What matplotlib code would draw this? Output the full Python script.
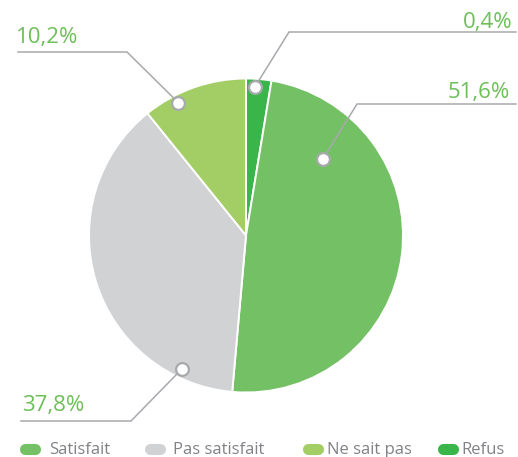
import numpy as np
import matplotlib
matplotlib.use('Agg')
import matplotlib.pyplot as plt

# Données
categories = ['Satisfait', 'Pas satisfait', 'Ne sait pas', 'Refus']
percent_labels = ['51,6%', '37,8%', '10,2%', '0,4%']
# parts telles que dessinées sur le camembert (en %)
slice_share = [48.8, 37.8, 10.8, 2.6]
colors = ['#74C065', '#D1D2D4', '#A3CD65', '#3AB54A']

LABEL_GREEN = '#6DBF57'
LINE_GREY = '#A7A9AC'
TEXT_GREY = '#808285'

plt.rcParams['font.family'] = ['Open Sans', 'DejaVu Sans']

W, H = 518, 457
fig = plt.figure(figsize=(W / 100, H / 100), dpi=100)
ax = fig.add_axes([0, 0, 1, 1])

cx, cy, R = 246, 235.5, 157

# ordre dans le sens horaire depuis midi : Refus, Satisfait, Pas satisfait, Ne sait pas
order = [3, 0, 1, 2]
ax.pie([slice_share[i] for i in order], colors=[colors[i] for i in order],
       startangle=-90, counterclock=True, center=(cx, cy), radius=R,
       wedgeprops=dict(edgecolor='white', linewidth=1.4))

ax.set_xlim(0, W)
ax.set_ylim(H, 0)
ax.set_aspect('equal')
ax.axis('off')


def polar(phi, frac):
    # phi : angle horaire depuis midi (degrés)
    a = np.deg2rad(-90 + phi)
    return cx + frac * R * np.cos(a), cy + frac * R * np.sin(a)


# étiquettes avec traits de rappel : (angle, rayon relatif, coude, fin, texte x, texte y, alignement)
callouts = {
    'Refus':         (3.5, 0.95, (289, 32), 516, 513, 28, 'right'),
    'Satisfait':     (45.2, 0.69, (357, 104), 516, 510, 98, 'right'),
    'Ne sait pas':   (333.0, 0.95, (127, 52), 18, 16, 43, 'left'),
    'Pas satisfait': (205.6, 0.94, (131, 421), 21, 22, 411, 'left'),
}

for cat, (phi, frac, elbow, xend, tx, ty, ha) in callouts.items():
    i = categories.index(cat)
    px, py = polar(phi, frac)
    ax.plot([px, elbow[0], xend], [py, elbow[1], elbow[1]],
            color=LINE_GREY, lw=1.1, solid_joinstyle='miter', zorder=3)
    ax.plot(px, py, 'o', ms=9.2, mfc='white', mec=LINE_GREY, mew=1.6, zorder=4)
    ax.text(tx, ty, percent_labels[i], color=LABEL_GREEN, fontsize=16,
            ha=ha, va='baseline')

# Légende
legend_x = [29.7, 155, 312.5, 447.5]
legend_tx = [49, 173, 327, 461]
ly = 448.5
for i, cat in enumerate(categories):
    ax.plot([legend_x[i] - 5, legend_x[i] + 5], [ly, ly], color=colors[i],
            lw=8, solid_capstyle='round')
    ax.text(legend_tx[i], 453.5, cat, color=TEXT_GREY, fontsize=12,
            ha='left', va='baseline')

plt.savefig('out.png', dpi=100)
